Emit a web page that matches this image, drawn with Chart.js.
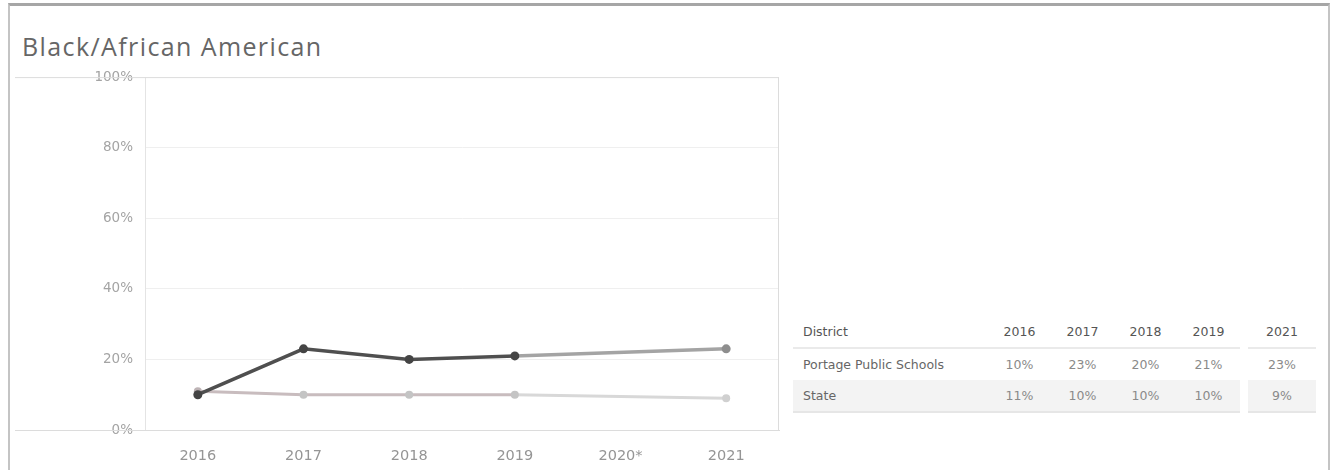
<!DOCTYPE html>
<html lang="en">
<head>
    <meta charset="UTF-8">
    <title>Black/African American</title>
    <script src="https://cdn.jsdelivr.net/npm/chart.js"></script>
    <style>
        body { margin: 0; background: #fff; font-family: "DejaVu Sans", sans-serif; }
        .frame {
            position: absolute; left: 8px; top: 3px; width: 1318px; height: 470px;
            border-top: 3px solid #a6a6a6; border-left: 2px solid #c4c4c4; border-right: 2px solid #c4c4c4;
        }
        .title {
            position: absolute; left: 22px; top: 29px; font-family: "Open Sans", sans-serif;
            font-size: 25px; color: #666; letter-spacing: 1.4px;
        }
        .chart-box { position: absolute; left: 15px; top: 57px; width: 770px; height: 413px; }
        table.summary {
            position: absolute; left: 793px; top: 316px; border-collapse: collapse;
            font-size: 12.5px; color: #8a8a8a;
        }
        table.summary td, table.summary th { height: 31px; padding: 0; font-weight: normal; }
        table.summary th { color: #555; }
        table.summary td.name { color: #666; }
        table.summary .name { width: 185px; text-align: left; padding-left: 10px; }
        table.summary .val { width: 63px; text-align: center; }
        table.summary .gap { width: 8px; }
        table.summary .wide { width: 68px; text-align: center; }
        table.summary thead th { border-bottom: 2px solid #eaeaea; }
        table.summary tr.shaded td:not(.gap) { background: #f3f3f3; border-bottom: 2px solid #e6e6e6; }
        table.summary thead th.gap { border-bottom: none; }
    </style>
</head>
<body>
<div class="frame"></div>
<div class="title">Black/African American</div>
<div class="chart-box"><canvas id="trend"></canvas></div>

<table class="summary" id="summary"></table>

<script>
    // Years and rates (percent); 2020 has no reported value
    const years = ['2016', '2017', '2018', '2019', '2020*', '2021'];
    const districtRates = [10, 23, 20, 21, null, 23];
    const stateRates = [11, 10, 10, 10, null, 9];
    const yTicks = [0, 20, 40, 60, 80, 100];

    // Summary table next to the chart (2020 column left out)
    const tableYears = years.filter(y => y !== '2020*');
    const tableRows = [
        { name: 'Portage Public Schools', values: districtRates.filter(v => v !== null) },
        { name: 'State', values: stateRates.filter(v => v !== null) }
    ];
    (function buildTable() {
        const t = document.getElementById('summary');
        let html = '<thead><tr><th class="name">District</th>';
        tableYears.forEach((y, i) => {
            if (i === tableYears.length - 1) html += '<th class="gap"></th><th class="wide">' + y + '</th>';
            else html += '<th class="val">' + y + '</th>';
        });
        html += '</tr></thead><tbody>';
        tableRows.forEach((r, ri) => {
            html += '<tr' + (ri === 1 ? ' class="shaded"' : '') + '><td class="name">' + r.name + '</td>';
            r.values.forEach((v, i) => {
                if (i === r.values.length - 1) html += '<td class="gap"></td><td class="wide">' + v + '%</td>';
                else html += '<td class="val">' + v + '%</td>';
            });
            html += '</tr>';
        });
        t.innerHTML = html + '</tbody>';
    })();

    // segment spanning the missing 2020 value is drawn lighter
    const gapColor = (data, normal, light) => ctx => (data[ctx.p0DataIndex] === null ? light : normal);

    // frame lines that run under the y labels too
    const frameLines = {
        id: 'frameLines',
        afterDraw(chart) {
            const { ctx, chartArea } = chart;
            ctx.save();
            ctx.strokeStyle = '#dcdcdc';
            ctx.lineWidth = 1;
            ctx.beginPath();
            ctx.moveTo(0, chartArea.top + 0.5); ctx.lineTo(chartArea.right, chartArea.top + 0.5);
            ctx.moveTo(0, chartArea.bottom + 0.5); ctx.lineTo(chartArea.right, chartArea.bottom + 0.5);
            ctx.moveTo(chartArea.right - 0.5, chartArea.top); ctx.lineTo(chartArea.right - 0.5, chartArea.bottom);
            ctx.stroke();
            ctx.restore();
        }
    };

    new Chart(document.getElementById('trend'), {
        type: 'line',
        data: {
            labels: years,
            // first dataset is painted last, so the district line sits on top
            datasets: [{
                label: 'Portage Public Schools',
                data: districtRates,
                spanGaps: true,
                borderWidth: 3.5,
                borderColor: '#4f4f4f',
                segment: { borderColor: gapColor(districtRates, '#4f4f4f', '#a4a4a4') },
                pointRadius: 4.5,
                pointBackgroundColor: ['#444', '#444', '#444', '#444', '#444', '#8e8e8e'],
                pointBorderWidth: 0
            }, {
                label: 'State',
                data: stateRates,
                spanGaps: true,
                borderWidth: 3,
                borderColor: '#c8bcbe',
                segment: { borderColor: gapColor(stateRates, '#c8bcbe', '#d8d8d8') },
                pointRadius: 4,
                pointBackgroundColor: ['#bdb3b5', '#c4c4c4', '#c4c4c4', '#c4c4c4', '#c4c4c4', '#d0d0d0'],
                pointBorderWidth: 0
            }]
        },
        options: {
            responsive: true,
            maintainAspectRatio: false,
            animation: false,
            layout: { padding: { top: 7, right: 6 } },
            plugins: { legend: { display: false }, tooltip: { enabled: false } },
            scales: {
                x: {
                    offset: true,
                    afterFit: s => { s.height = 40; },
                    grid: { display: false },
                    border: { color: '#dcdcdc' },
                    ticks: { color: '#959595', font: { family: 'DejaVu Sans', size: 14.5 }, padding: 10 }
                },
                y: {
                    min: 0,
                    max: 100,
                    afterFit: s => { s.width = 130; },
                    afterBuildTicks: s => { s.ticks = yTicks.map(v => ({ value: v })); },
                    grid: { color: ctx => (ctx.tick.value === 0 || ctx.tick.value === 100 ? 'rgba(0,0,0,0)' : '#efefef'), drawTicks: false },
                    border: { color: '#e4e4e4' },
                    ticks: {
                        color: '#a4a4a4',
                        font: { family: 'DejaVu Sans', size: 13.5 },
                        padding: 12,
                        callback: v => v + '%'
                    }
                }
            }
        },
        plugins: [frameLines]
    });
</script>
</body>
</html>
